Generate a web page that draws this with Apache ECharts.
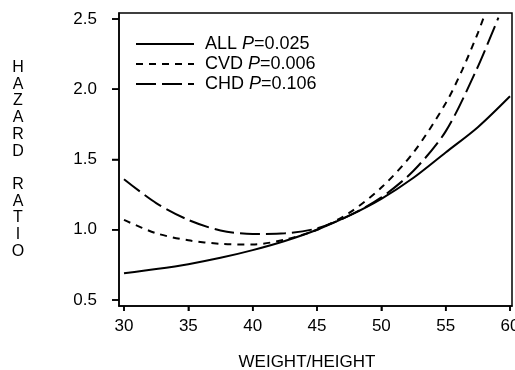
<!DOCTYPE html>
<html>
<head>
<meta charset="utf-8">
<script src="https://cdn.jsdelivr.net/npm/echarts@6/dist/echarts.min.js"></script>
<style>html,body{margin:0;padding:0;background:#fff}#c{width:515px;height:370px}</style>
</head>
<body>
<div id="c"></div>
<script>
// Data
const xTicks = [30, 35, 40, 45, 50, 55, 60];
const yTicks = [0.5, 1.0, 1.5, 2.0, 2.5];
const allX = [30, 32.5, 35, 37.5, 40, 42.5, 45, 47.5, 50, 52.5, 55, 57.5, 60];
const allHR = [0.69, 0.72, 0.755, 0.80, 0.855, 0.92, 1.0, 1.10, 1.22, 1.37, 1.55, 1.73, 1.95];
const cvdX = [30, 32.5, 35, 37.5, 40, 42.5, 45, 47.5, 50, 52.5, 55, 56.3, 57.5, 57.95];
const cvdHR = [1.07, 0.975, 0.925, 0.90, 0.895, 0.93, 1.0, 1.12, 1.30, 1.55, 1.90, 2.14, 2.40, 2.51];
const chdX = [30, 32.5, 35, 37.5, 40, 42.5, 45, 47.5, 50, 52.5, 55, 57.4, 59.1];
const chdHR = [1.36, 1.19, 1.07, 0.995, 0.97, 0.975, 1.01, 1.10, 1.23, 1.42, 1.70, 2.14, 2.51];
const seriesNames = ['ALL', 'CVD', 'CHD'];
const pValues = ['0.025', '0.006', '0.106'];

const FONT = "'Liberation Sans', Arial, sans-serif";
const X_MIN = 29.611, X_MAX = 60.155, Y_MIN = 0.4573, Y_MAX = 2.5427;
const pair = (xs, ys) => xs.map((x, i) => [x, ys[i]]);

const chart = echarts.init(document.getElementById('c'));
const pMap = {};
seriesNames.forEach((n, i) => pMap[n] = pValues[i]);

// Tick marks drawn through the library's scales (api.coord)
const tickSeries = (vals, isX) => ({
  type: 'custom', clip: false, silent: true, z: 10, legendHoverLink: false,
  data: vals.map(v => isX ? [v, Y_MIN] : [X_MIN, v]),
  renderItem: (params, api) => {
    const p = api.coord([api.value(0), api.value(1)]);
    return {type: 'line',
      shape: isX ? {x1: p[0], y1: p[1], x2: p[0], y2: p[1] + 5}
                 : {x1: p[0] - 7, y1: p[1], x2: p[0], y2: p[1]},
      style: {stroke: '#000', lineWidth: 1.5}};
  }
});

chart.setOption({
  animation: false,
  grid: {left: 119, right: 3, top: 13, bottom: 64, show: true, borderColor: '#000', borderWidth: 1.5,
     outerBoundsMode: 'none'},
  xAxis: {type: 'value', min: X_MIN, max: X_MAX,
     axisLine: {show: true, lineStyle: {color: '#000', width: 1.5}},
     axisTick: {show: true, length: 5, customValues: xTicks, lineStyle: {color: '#000', width: 1.5}},
     axisLabel: {show: true, margin: 12, customValues: xTicks, fontFamily: FONT, fontSize: 17, color: '#000'},
     splitLine: {show: false},
     name: 'WEIGHT/HEIGHT', nameLocation: 'middle', nameGap: 56,
     nameTextStyle: {fontFamily: FONT, fontSize: 17, color: '#000', verticalAlign: 'middle', padding: [0, 17, 0, 0]}},
  yAxis: {type: 'value', min: Y_MIN, max: Y_MAX,
     axisLine: {show: true, lineStyle: {color: '#000', width: 1.5}},
     axisTick: {show: true, length: 7, customValues: yTicks, lineStyle: {color: '#000', width: 1.5}},
     axisLabel: {show: true, margin: 22, customValues: yTicks, fontFamily: FONT, fontSize: 17, color: '#000',
       formatter: v => v.toFixed(1)},
     splitLine: {show: false},
     name: 'H\nA\nZ\nA\nR\nD\n\nR\nA\nT\nI\nO', nameLocation: 'middle', nameRotate: 0, nameGap: 101,
     nameTextStyle: {fontFamily: FONT, fontSize: 16, color: '#000', align: 'center', verticalAlign: 'middle',
       lineHeight: 16.7}},
  legend: {
    orient: 'vertical', left: 135, top: 35, padding: 0, itemWidth: 58, itemHeight: 14, itemGap: 2,
    data: seriesNames,
    itemStyle: {opacity: 0},
    formatter: n => n + ' {p|P}=' + pMap[n],
    textStyle: {fontFamily: FONT, fontSize: 18, color: '#000', lineHeight: 14, padding: [0, 0, 0, 6],
      rich: {p: {fontFamily: FONT, fontSize: 18, fontStyle: 'italic', color: '#000', lineHeight: 14}}}
  },
  series: [
    {name: 'ALL', type: 'line', data: pair(allX, allHR), smooth: 0.3,
     symbol: 'none', lineStyle: {color: '#000', width: 2, type: 'solid'}, itemStyle: {color: '#000'}},
    {name: 'CVD', type: 'line', data: pair(cvdX, cvdHR), smooth: 0.3,
     symbol: 'none', lineStyle: {color: '#000', width: 2, type: [7, 6]}, itemStyle: {color: '#000'}},
    {name: 'CHD', type: 'line', data: pair(chdX, chdHR), smooth: 0.3,
     symbol: 'none', lineStyle: {color: '#000', width: 2, type: [20, 6]}, itemStyle: {color: '#000'}},
    tickSeries(xTicks, true),
    tickSeries(yTicks, false)
  ]
});
</script>
</body>
</html>
